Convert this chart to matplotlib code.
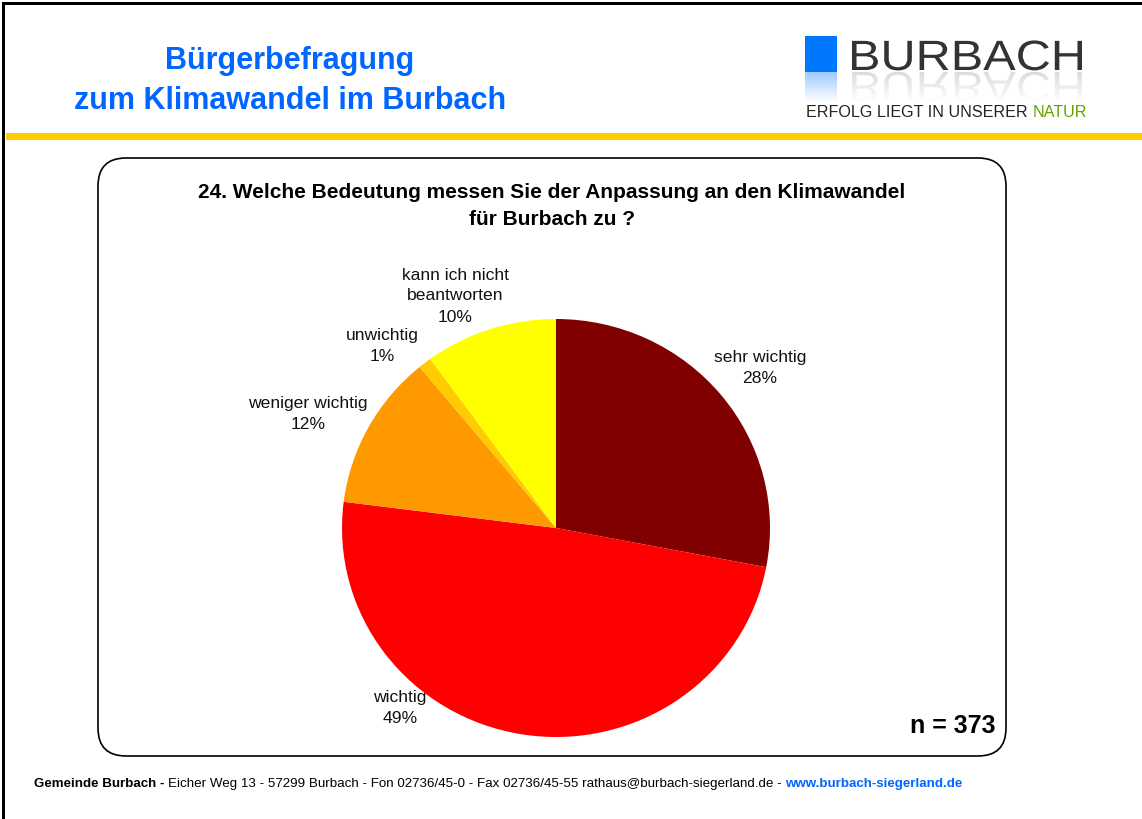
import matplotlib
matplotlib.use("Agg")
import numpy as np
import matplotlib.pyplot as plt
from matplotlib.patches import FancyBboxPatch, Rectangle, PathPatch
from matplotlib.textpath import TextPath
from matplotlib.font_manager import FontProperties
from matplotlib.transforms import Affine2D

plt.rcParams['font.family'] = ['Liberation Sans', 'DejaVu Sans']

# data
categories = ["sehr wichtig", "wichtig", "weniger wichtig", "unwichtig",
              "kann ich nicht\nbeantworten"]
shares = [28, 49, 12, 1, 10]
colors = ["#800000", "#FF0000", "#FF9900", "#FFCC00", "#FFFF00"]
n_total = 373

# label centres in slide pixels
label_pos = [(760, 368), (400, 708), (308, 414), (382, 346), (455, 296)]

W, H = 1142, 819
fig = plt.figure(figsize=(W / 100, H / 100), dpi=100)
renderer = fig.canvas.get_renderer()

bg = fig.add_axes([0, 0, 1, 1])
bg.axis("off")


def chain(x, y, parts, **kw):
    # draw text pieces one after another on the same line
    for s, extra in parts:
        t = bg.text(x, y, s, **kw, **extra)
        bb = t.get_window_extent(renderer)
        x += bb.width


def gradient(x0, x1, y0, y1, rgb, a0, clip=None):
    g = np.zeros((64, 2, 4))
    g[..., :3] = rgb
    g[..., 3] = np.linspace(a0, 0, 64)[:, None]
    im = bg.imshow(g, extent=(x0, x1, y1, y0), origin="upper",
                   aspect="auto", interpolation="bilinear", zorder=2)
    if clip is not None:
        im.set_clip_path(clip)


# slide frame + yellow rule
bg.add_patch(Rectangle((2, 2), 3, H, color="black", lw=0))
bg.add_patch(Rectangle((2, 2), W, 2.5, color="black", lw=0))
bg.add_patch(Rectangle((6, 133), W - 6, 7, color="#FFCC00", lw=0))

# header title
bg.text(290, 81, "Bürgerbefragung\nzum Klimawandel im Burbach", ha="center",
        va="center", fontsize=22, fontweight="bold", color="#0066FF",
        linespacing=1.4)

# logo square with reflection
bg.add_patch(Rectangle((805, 36), 32, 36, color="#0077FF", lw=0))
gradient(805, 837, 72, 102, (0.5, 0.72, 1.0), 0.75)

# logo word with reflection
tp = TextPath((0, 0), "BURBACH", size=40, prop=FontProperties(family="Liberation Sans"))
ext = tp.get_extents()
sx = 230 / ext.width
sy = 30 / ext.height
x0, base = 852, 70
word = PathPatch(tp, fc="#333333", lw=0,
                 transform=Affine2D().translate(-ext.x0, 0).scale(sx, -sy).translate(x0, base) + bg.transData)
bg.add_patch(word)
mirror = PathPatch(tp, fc="none", lw=0,
                   transform=Affine2D().translate(-ext.x0, 0).scale(sx, sy).translate(x0, base + 2) + bg.transData)
bg.add_patch(mirror)
gradient(850, 1085, 72, 102, (0.6, 0.6, 0.6), 0.35, clip=mirror)

chain(806, 117, [("ERFOLG LIEGT IN UNSERER ", dict(color="#222222")),
                 ("NATUR", dict(color="#66A000"))],
      fontsize=11.6, va="baseline")

# rounded chart box
bg.add_patch(FancyBboxPatch((98, 158), 908, 598,
                            boxstyle="round,pad=0,rounding_size=28",
                            fc="white", ec="black", lw=1.2, zorder=1))

bg.text(552, 206, "24. Welche Bedeutung messen Sie der Anpassung an den Klimawandel\nfür Burbach zu ?",
        ha="center", va="center", fontsize=15, fontweight="bold",
        linespacing=1.5, zorder=3)

bg.text(995, 726, f"n = {n_total}", ha="right", va="center", fontsize=18,
        fontweight="bold", zorder=3)

# footer
chain(34, 784, [("Gemeinde Burbach - ", dict(fontweight="bold")),
                ("Eicher Weg 13 - 57299 Burbach - Fon 02736/45-0 - Fax 02736/45-55 rathaus@burbach-siegerland.de - ", {}),
                ("www.burbach-siegerland.de", dict(fontweight="bold", color="#0066FF"))],
      fontsize=9.6, va="center")

for cat, val, (lx, ly) in zip(categories, shares, label_pos):
    bg.text(lx, ly, f"{cat}\n{val}%", ha="center", va="center", fontsize=12.6,
            linespacing=1.5, color="#111111", zorder=3)

bg.set_xlim(0, W)
bg.set_ylim(H, 0)

# pie (slightly squashed vertically like the original)
cx, cy, rx, ry = 556, 528, 214, 209
half = 260
ax = fig.add_axes([(cx - half) / W, (H - cy - half) / H, 2 * half / W, 2 * half / H])
ax.pie(shares, colors=colors, startangle=90, counterclock=False, radius=rx,
       wedgeprops=dict(linewidth=0), frame=True)
ax.set_aspect("auto")
ax.set_xlim(-half, half)
ax.set_ylim(-half * rx / ry, half * rx / ry)
ax.axis("off")

fig.savefig("out.png", dpi=100)
